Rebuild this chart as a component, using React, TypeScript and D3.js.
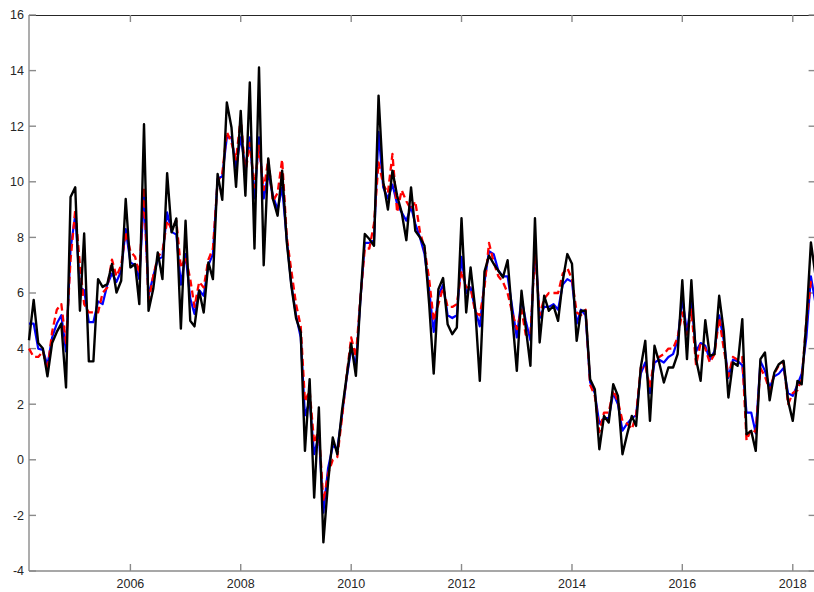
import { useEffect, useRef } from "react";
import * as d3 from "d3";

// monthly series, first value is March 2004
const startYear = 2004;
const startMonth = 2;

const actual = [
  4.3, 5.75, 4.2, 4.0, 3.0, 4.2, 4.6, 4.9, 2.6, 9.45,
  9.8, 5.36, 8.14, 3.54, 3.54, 6.5, 6.22, 6.32, 7.04, 6.02, 6.44, 9.38,
  6.92, 7.04, 5.6, 12.07, 5.36, 6.14, 7.46, 6.5, 10.31, 8.18, 8.68, 4.72,
  8.6, 5.0, 4.8, 6.08, 5.3, 7.1, 6.5, 10.28, 9.35, 12.85, 11.95, 9.82,
  12.55, 9.5, 13.57, 7.6, 14.11, 7.0, 10.84, 9.38, 8.78, 10.4, 7.82, 6.26,
  5.1, 4.58, 0.32, 2.9, -1.36, 1.88, -2.97, -0.8, 0.8, 0.2, 1.76, 2.96,
  4.18, 3.02, 5.6, 8.12, 7.94, 7.7, 13.1, 10.0, 9.0, 10.4, 9.5, 8.9,
  7.9, 9.8, 8.24, 8.0, 7.7, 5.6, 3.1, 6.14, 6.54, 4.88, 4.52, 4.76,
  8.69, 5.3, 6.92, 5.4, 2.84, 6.77, 7.34, 7.05, 6.8, 6.56, 7.18, 5.2,
  3.2, 6.08, 4.76, 3.38, 8.69, 4.22, 5.9, 5.36, 5.54, 5.0, 6.44, 7.4,
  7.05, 4.28, 5.36, 5.36, 2.9, 2.54, 0.38, 1.58, 1.34, 2.72, 2.3, 0.2,
  0.92, 1.58, 1.22, 3.32, 4.28, 1.4, 4.1, 3.5, 2.78, 3.32, 3.32, 3.8,
  6.46, 3.62, 6.46, 3.62, 2.84, 5.02, 3.74, 3.8, 5.9, 4.64, 2.24, 3.5,
  3.38, 5.06, 0.92, 1.04, 0.32, 3.62, 3.86, 2.14, 3.14, 3.44, 3.56, 2.12,
  1.4, 2.84, 2.72, 5.0, 7.82, 6.6,
];

const nowcast = [
  4.9, 4.9, 4.0, 3.95, 3.4, 4.4, 4.9, 5.2, 3.9, 7.6,
  8.8, 6.2, 6.1, 4.95, 4.95, 5.7, 5.6, 6.3, 6.7, 6.4, 6.8, 8.3,
  7.1, 7.0, 6.5, 9.5, 5.9, 6.6, 7.2, 7.3, 8.9, 8.2, 8.1, 6.3,
  7.4, 5.8, 5.25, 6.1, 5.9, 7.0, 7.4, 10.1, 10.2, 11.6, 11.6, 10.5,
  11.6, 10.5, 11.6, 9.4, 11.6, 9.4, 10.3, 9.5, 9.0, 9.8, 7.9, 6.3,
  5.2, 4.4, 1.6, 2.1, 0.2, 0.9, -1.9, -0.3, 0.5, 0.4, 1.6, 2.9,
  4.0, 3.4, 5.6, 7.8, 7.8, 7.9, 11.8, 9.8, 9.4, 9.9, 9.2, 8.9,
  8.6, 9.1, 8.5, 8.0, 7.4, 6.1, 4.6, 5.9, 6.3, 5.2, 5.1, 5.2,
  7.3, 6.0, 6.2, 5.4, 4.8, 6.4, 7.5, 7.4, 6.8, 6.6, 6.6, 5.5,
  4.4, 5.8, 5.0, 4.3, 7.8, 5.1, 5.5, 5.5, 5.6, 5.4, 6.3, 6.5,
  6.4, 4.9, 5.4, 5.2, 2.8, 2.4, 1.3, 1.5, 1.5, 2.4, 2.0, 1.05,
  1.3, 1.5, 1.6, 3.1, 3.5, 2.4, 3.5, 3.6, 3.5, 3.7, 3.8, 4.3,
  5.8, 4.6, 5.7, 3.9, 4.2, 4.1, 3.6, 3.9, 5.2, 4.3, 2.95, 3.6,
  3.55, 3.4, 1.7, 1.7, 0.95, 3.55, 3.2, 2.6, 3.0, 3.1, 3.3, 2.4,
  2.3, 2.7, 3.1, 4.4, 6.6, 5.6,
];

const forecast = [
  4.0, 3.7, 3.7, 3.9, 3.2, 4.6, 5.4, 5.6, 4.2, 7.2,
  9.0, 7.0, 5.6, 5.3, 5.3, 5.3, 6.0, 6.2, 7.2, 6.6, 7.0, 8.2,
  7.5, 7.3, 6.7, 9.8, 5.7, 6.6, 7.3, 7.5, 8.6, 8.3, 8.6, 6.9,
  7.3, 6.5, 5.5, 6.4, 6.2, 7.2, 7.6, 10.0, 10.3, 11.8, 11.4, 10.8,
  12.3, 10.3, 11.4, 9.8, 11.3, 9.7, 10.8, 9.3, 9.6, 10.8, 8.0, 6.8,
  5.6, 4.8, 2.1, 2.5, 0.6, 1.1, -1.5, -0.5, 0.0, 0.1, 1.5, 3.0,
  4.4, 3.7, 5.7, 7.6, 7.6, 8.5, 10.7, 9.9, 9.6, 11.0, 8.9, 9.7,
  9.3, 9.0, 9.3, 8.2, 7.6, 6.5, 5.0, 5.6, 6.2, 5.5, 5.5, 5.6,
  6.8, 6.2, 6.2, 5.3, 5.2, 6.2, 7.8, 7.1, 6.6, 6.4, 6.0, 5.3,
  4.7, 5.4, 4.5, 4.5, 7.5, 5.2, 5.8, 6.0, 6.0, 6.0, 6.7, 6.9,
  6.5, 5.3, 5.2, 5.4, 2.7, 2.3, 1.0, 1.7, 1.7, 2.5, 2.1, 1.4,
  1.3, 1.1, 1.6, 3.3, 3.4, 2.6, 3.7, 3.7, 3.8, 4.0, 4.0, 4.4,
  5.3, 4.5, 5.4, 3.4, 4.2, 4.0, 3.5, 3.8, 5.1, 4.0, 3.0, 3.7,
  3.6, 3.7, 0.7, 1.1, 1.0, 3.3, 3.0, 2.5, 3.1, 3.4, 3.5, 2.0,
  2.4, 2.5, 2.9, 5.0, 6.4, 6.4,
];

const yTicks = [-4, -2, 0, 2, 4, 6, 8, 10, 12, 14, 16];
const xTickYears = [2006, 2008, 2010, 2012, 2014, 2016, 2018];

const width = 814;
const height = 592;
const margin = { left: 29, top: 15, bottom: 21 };

export default function App() {
  const svgRef = useRef<SVGSVGElement>(null);

  useEffect(() => {
    const svg = d3.select(svgRef.current);
    svg.selectAll("*").remove();

    const dates = actual.map((_, i) => new Date(startYear, startMonth + i, 1));

    // right edge of the axes box falls just outside the picture
    const x = d3
      .scaleTime()
      .domain([dates[0], dates[dates.length - 1]])
      .range([margin.left, 815.6]);
    const y = d3
      .scaleLinear()
      .domain([-4, 16])
      .range([height - margin.bottom, margin.top]);

    const x0 = x.range()[0];
    const x1 = x.range()[1];
    const y0 = y.range()[0];
    const y1 = y.range()[1];
    const tickLen = 7;
    const axisColor = "#8a8a8a";

    // box
    svg.append("line")
      .attr("x1", x0).attr("x2", x1).attr("y1", y1 + 0.5).attr("y2", y1 + 0.5)
      .attr("stroke", "#262626").attr("stroke-width", 1);

    const axes = svg.append("g").attr("stroke", axisColor).attr("stroke-width", 1.4);

    yTicks.forEach((t) => {
      axes.append("line")
        .attr("x1", x0).attr("x2", x0 + tickLen).attr("y1", y(t)).attr("y2", y(t));
      axes.append("line")
        .attr("x1", x1 - tickLen).attr("x2", x1).attr("y1", y(t)).attr("y2", y(t));
    });
    xTickYears.forEach((yr) => {
      const xp = x(new Date(yr, 0, 1));
      axes.append("line").attr("x1", xp).attr("x2", xp).attr("y1", y0).attr("y2", y0 - tickLen);
      axes.append("line").attr("x1", xp).attr("x2", xp).attr("y1", y1).attr("y2", y1 + tickLen);
    });

    axes.append("line").attr("x1", x0).attr("x2", x0).attr("y1", y0).attr("y2", y1);
    axes.append("line").attr("x1", x0).attr("x2", x1).attr("y1", y0).attr("y2", y0);

    const labels = svg.append("g")
      .attr("font-family", "'Liberation Sans', Arial, sans-serif")
      .attr("font-size", 12.5)
      .attr("fill", "#262626");

    labels.selectAll(".ylab")
      .data(yTicks)
      .enter().append("text")
      .attr("x", x0 - 5)
      .attr("y", (d) => y(d))
      .attr("dy", "0.35em")
      .attr("text-anchor", "end")
      .text((d) => d);

    labels.selectAll(".xlab")
      .data(xTickYears)
      .enter().append("text")
      .attr("x", (d) => x(new Date(d, 0, 1)))
      .attr("y", y0 + 17)
      .attr("text-anchor", "middle")
      .text((d) => d);

    const line = d3
      .line<number>()
      .x((_, i) => x(dates[i]))
      .y((d) => y(d));

    const plot = svg.append("g").attr("fill", "none").attr("stroke-linejoin", "round");

    plot.append("path")
      .attr("d", line(nowcast))
      .attr("stroke", "#0000ff")
      .attr("stroke-width", 2.2);

    plot.append("path")
      .attr("d", line(forecast))
      .attr("stroke", "#ff0000")
      .attr("stroke-width", 2.3)
      .attr("stroke-dasharray", "7,4");

    plot.append("path")
      .attr("d", line(actual))
      .attr("stroke", "#000000")
      .attr("stroke-width", 2.4);
  }, []);

  return (
    <svg
      ref={svgRef}
      width={width}
      height={height}
      style={{ position: "absolute", left: 0, top: 0, background: "#fff" }}
    />
  );
}
